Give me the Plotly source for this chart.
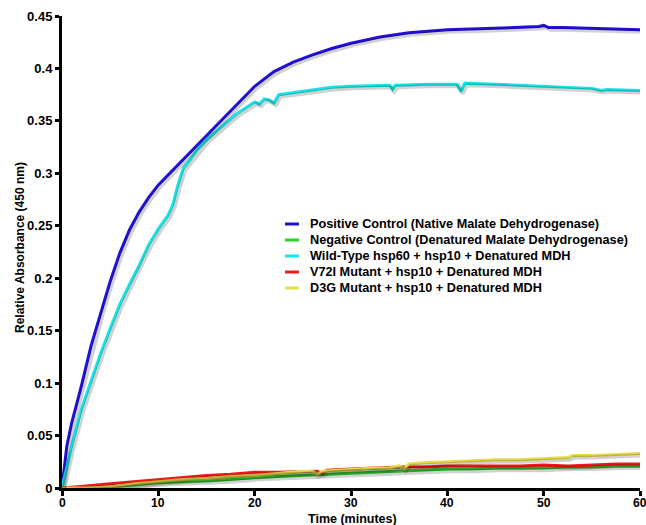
import plotly.graph_objects as go

# ---- data ----
t_pos = [0, 0.5, 1, 2, 3, 4, 5, 6, 7, 8, 9, 10, 12, 14, 16, 18, 20, 22, 24, 26, 28, 30, 33, 36, 40, 44, 48, 49.5, 50, 50.5, 52, 56, 60]
y_pos = [0, 0.04, 0.062, 0.097, 0.135, 0.167, 0.197, 0.224, 0.246, 0.263, 0.277, 0.289, 0.308, 0.327, 0.345, 0.365, 0.383, 0.397, 0.406, 0.413, 0.419, 0.424, 0.430, 0.434, 0.437, 0.438, 0.439, 0.440, 0.441, 0.439, 0.439, 0.438, 0.437]

t_wt = [0, 0.5, 1, 2, 3, 4, 5, 6, 7, 8, 9, 10, 11, 11.5, 12, 12.6, 13.3, 14, 15, 16, 17, 18, 19, 20, 20.5, 21, 21.5, 22, 22.5, 24, 26, 28, 30, 34, 34.3, 34.6, 38, 41, 41.4, 41.8, 45, 50, 55, 56, 56.5, 60]
y_wt = [0, 0.02, 0.04, 0.075, 0.102, 0.128, 0.152, 0.175, 0.194, 0.212, 0.232, 0.247, 0.260, 0.270, 0.288, 0.305, 0.313, 0.322, 0.332, 0.340, 0.348, 0.356, 0.362, 0.368, 0.366, 0.371, 0.370, 0.367, 0.375, 0.377, 0.380, 0.382, 0.383, 0.384, 0.380, 0.384, 0.385, 0.385, 0.378, 0.386, 0.385, 0.383, 0.381, 0.379, 0.380, 0.379]

t_neg = [0, 2.5, 5, 7.5, 10, 12.5, 15, 17.5, 20, 22.5, 25, 27.5, 30, 32.5, 35, 37.5, 40, 42.5, 45, 47.5, 50, 52.5, 55, 57.5, 60]
y_neg = [0, 0, 0.001, 0.003, 0.005, 0.006, 0.007, 0.008, 0.010, 0.011, 0.012, 0.013, 0.014, 0.015, 0.016, 0.017, 0.018, 0.018, 0.019, 0.019, 0.019, 0.020, 0.020, 0.021, 0.021]

t_v72 = [0, 1, 2.5, 5, 7.5, 10, 12.5, 15, 17.5, 20, 22.5, 25, 26.5, 27, 27.5, 30, 32.5, 35, 37.5, 40, 42.5, 45, 47.5, 50, 52.5, 55, 57.5, 60]
y_v72 = [0, 0.001, 0.002, 0.004, 0.006, 0.008, 0.010, 0.012, 0.013, 0.015, 0.015, 0.016, 0.016, 0.014, 0.017, 0.018, 0.019, 0.020, 0.020, 0.021, 0.021, 0.021, 0.021, 0.022, 0.021, 0.022, 0.023, 0.023]

t_d3g = [0, 2.5, 5, 7.5, 10, 12.5, 15, 17.5, 20, 22.5, 25, 26, 26.5, 27, 30, 32.5, 34, 35, 35.5, 36, 37.5, 40, 42.5, 45, 47.5, 50, 52.5, 53, 55, 57.5, 60]
y_d3g = [0, 0, 0.001, 0.004, 0.006, 0.008, 0.009, 0.011, 0.012, 0.014, 0.016, 0.016, 0.013, 0.016, 0.018, 0.019, 0.019, 0.021, 0.018, 0.023, 0.024, 0.025, 0.026, 0.027, 0.027, 0.028, 0.029, 0.031, 0.031, 0.032, 0.033]

names = [
    "Positive Control (Native Malate Dehydrogenase)",
    "Negative Control (Denatured Malate Dehydrogenase)",
    "Wild-Type hsp60 + hsp10 + Denatured MDH",
    "V72I Mutant + hsp10 + Denatured MDH",
    "D3G Mutant + hsp10 + Denatured MDH",
]
colors = ["#2010d8", "#2ed02e", "#18e6e6", "#f01818", "#e8dc48"]
series = [(t_pos, y_pos), (t_neg, y_neg), (t_wt, y_wt), (t_v72, y_v72), (t_d3g, y_d3g)]

x_ticks = [0, 10, 20, 30, 40, 50, 60]
x_labels = ["0", "10", "20", "30", "40", "50", "60"]
y_ticks = [0, 0.05, 0.1, 0.15, 0.2, 0.25, 0.3, 0.35, 0.4, 0.45]
y_labels = ["0", "0.05", "0.1", "0.15", "0.2", "0.25", "0.3", "0.35", "0.4", "0.45"]

x_title = "Time (minutes)"
y_title = "Relative Absorbance (450 nm)"

FONT = "Liberation Sans, Arial, sans-serif"
W, H = 646, 525
ML, MR, MT, MB = 62, 6, 16, 37
PW, PH = W - ML - MR, H - MT - MB

def px_x(p):
    return (p - ML) / PW

def px_y(p):
    return (H - MB - p) / PH

fig = go.Figure()

# soft drop shadows on a slightly shifted overlay axis pair
for (tx, ty) in series:
    fig.add_trace(go.Scatter(x=tx, y=ty, mode="lines", xaxis="x2", yaxis="y2",
                             line=dict(color="rgba(0,0,0,0.18)", width=4),
                             showlegend=False, hoverinfo="skip"))

for (tx, ty), nm, c in zip(series, names, colors):
    fig.add_trace(go.Scatter(x=tx, y=ty, mode="lines", name=nm,
                             line=dict(color=c, width=3), showlegend=False))

# legend drawn as line samples + text
shapes, annos = [], []
for i, (nm, c) in enumerate(zip(names, colors)):
    yc = 224 + 16 * i
    shapes.append(dict(type="line", xref="paper", yref="paper",
                       x0=px_x(285), x1=px_x(299), y0=px_y(yc), y1=px_y(yc),
                       line=dict(color=c, width=3)))
    annos.append(dict(text=nm, xref="paper", yref="paper", x=px_x(309), y=px_y(yc),
                      xanchor="left", yanchor="middle", showarrow=False, borderpad=0,
                      font=dict(size=12.7, family=FONT, weight="bold", color="black")))

# x tick labels (placed on the x data scale)
for tv, tl in zip(x_ticks, x_labels):
    annos.append(dict(text=tl, xref="x", yref="paper", x=tv, y=px_y(503),
                      xanchor="center", yanchor="middle", showarrow=False, borderpad=0,
                      font=dict(size=12.2, family=FONT, weight="bold", color="black")))

# axis titles
annos.append(dict(text=x_title, xref="paper", yref="paper", x=px_x(352), y=px_y(518.5),
                  xanchor="center", yanchor="middle", showarrow=False, borderpad=0,
                  font=dict(size=12.5, family=FONT, weight="bold", color="black")))
annos.append(dict(text=y_title, xref="paper", yref="paper", x=px_x(20), y=px_y(248),
                  xanchor="center", yanchor="middle", showarrow=False, textangle=-90, borderpad=0,
                  font=dict(size=12, family=FONT, weight="bold", color="black")))

fig.update_layout(
    width=W, height=H,
    margin=dict(l=ML, r=MR, t=MT, b=MB),
    paper_bgcolor="white", plot_bgcolor="white",
    font=dict(family=FONT, size=12, color="black", weight="bold"),
    showlegend=False,
    shapes=shapes, annotations=annos,
    xaxis=dict(range=[0, 60], tickvals=x_ticks, showticklabels=False,
               showgrid=False, zeroline=False, automargin=False,
               showline=True, linecolor="black", linewidth=3,
               ticks="outside", ticklen=5, tickwidth=3, tickcolor="black"),
    yaxis=dict(range=[0, 0.45], tickvals=y_ticks, ticktext=y_labels, showgrid=False, zeroline=False,
               automargin=False,
               showline=True, linecolor="black", linewidth=3,
               ticks="outside", ticklen=4, tickwidth=3, tickcolor="black",
               tickfont=dict(size=13, family=FONT, weight="bold")),
    xaxis2=dict(range=[-0.2, 59.8], overlaying="x", visible=False, showgrid=False, zeroline=False),
    yaxis2=dict(range=[0.002, 0.452], overlaying="y", visible=False, showgrid=False, zeroline=False),
)

fig.write_html("out.html")
